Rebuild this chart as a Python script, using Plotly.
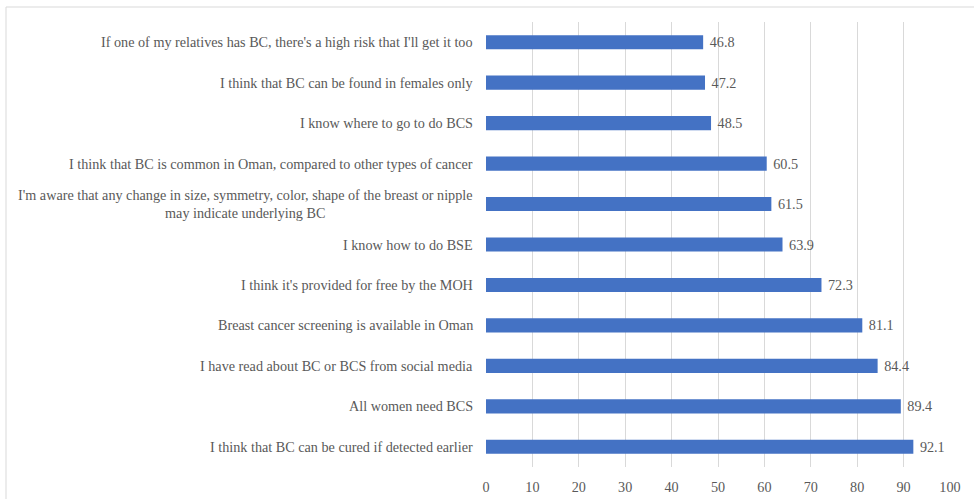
import plotly.graph_objects as go

categories = [
    "If one of my relatives has BC, there's a high risk that I'll get it too",
    "I think that BC can be found in females only",
    "I know where to go to do BCS",
    "I think that BC is common in Oman, compared to other types of cancer",
    "I'm aware that any change in size, symmetry, color, shape of the breast or nipple<br>may indicate underlying BC",
    "I know how to do BSE",
    "I think it's provided for free by the MOH",
    "Breast cancer screening is available in Oman",
    "I have read about BC or BCS from social media",
    "All women need BCS",
    "I think that BC can be cured if detected earlier",
]
values = [46.8, 47.2, 48.5, 60.5, 61.5, 63.9, 72.3, 81.1, 84.4, 89.4, 92.1]
x_ticks = [0, 10, 20, 30, 40, 50, 60, 70, 80, 90, 100]

FONT = "Liberation Serif"
GREY = "#595959"
FS = 14.2

W, H = 974, 499
L, R, T, B = 486, 24, 22, 32
pw, ph = W - L - R, H - T - B

def px_x(p):
    return (p - L) / pw

def px_y(q):
    return (H - B - q) / ph

fig = go.Figure()
fig.add_trace(go.Bar(
    x=values,
    y=categories,
    orientation="h",
    marker=dict(color="#4472C4", line=dict(width=0)),
    text=values,
    texttemplate="\u00a0%{x:.1f}",
    textposition="outside",
    constraintext="none",
    textfont=dict(family=FONT, size=FS, color=GREY),
    cliponaxis=False,
    hoverinfo="skip",
))

annotations = []
for c in categories:
    annotations.append(dict(
        x=0, y=c, xref="x", yref="y",
        text=c, showarrow=False,
        xanchor="right", yanchor="middle", align="center",
        xshift=-11,
        font=dict(family=FONT, size=FS, color=GREY),
    ))

shapes = [
    dict(type="line", xref="paper", yref="paper",
         x0=px_x(6), x1=px_x(974), y0=px_y(7), y1=px_y(7),
         line=dict(color="#d9d9d9", width=1)),
    dict(type="line", xref="paper", yref="paper",
         x0=px_x(6), x1=px_x(6), y0=px_y(7), y1=px_y(499),
         line=dict(color="#d9d9d9", width=1)),
]

fig.update_layout(
    width=W, height=H,
    margin=dict(l=L, r=R, t=T, b=B, pad=0, autoexpand=False),
    paper_bgcolor="white", plot_bgcolor="white",
    bargap=0.65,
    showlegend=False,
    font=dict(family=FONT, size=FS, color=GREY),
    annotations=annotations,
    shapes=shapes,
    xaxis=dict(
        range=[0, 100], tickvals=x_ticks, ticktext=[str(v) for v in x_ticks],
        showgrid=True, gridcolor="#d9d9d9", gridwidth=1,
        zeroline=False, showline=False, ticks="",
        tickfont=dict(family=FONT, size=FS, color=GREY),
        ticklabelstandoff=10, automargin=False, fixedrange=True,
    ),
    yaxis=dict(
        autorange="reversed", showticklabels=False,
        showgrid=False, zeroline=False, showline=False, ticks="",
        automargin=False, fixedrange=True,
    ),
)

fig.write_html(
    "out.html",
    config={"displayModeBar": False},
    post_script="document.body.style.margin='0';document.body.style.overflow='hidden';",
)
